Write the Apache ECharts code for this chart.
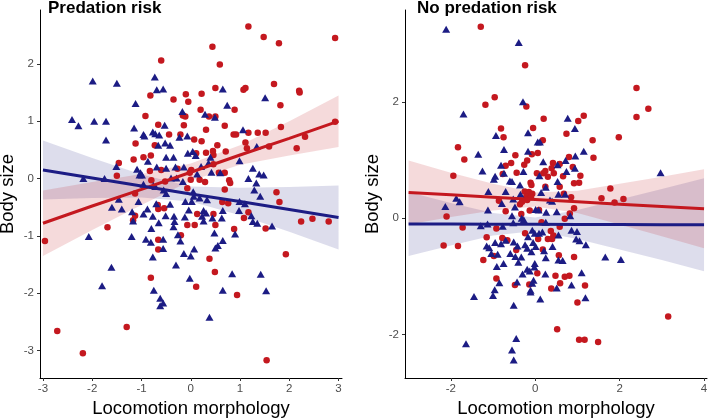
<!DOCTYPE html>
<html><head><meta charset="utf-8">
<script src="https://cdn.jsdelivr.net/npm/echarts@6/dist/echarts.min.js"></script>
<style>html,body{margin:0;padding:0;background:#fff}#c{width:709px;height:418px}</style>
</head><body><div id="c"></div>
<script>
const panelTitles = ['Predation risk', 'No predation risk'];
const xAxisTitle = 'Locomotion morphology';
const yAxisTitle = 'Body size';
const leftXTicks = [-3, -2, -1, 0, 1, 2, 3];
const leftYTicks = [-3, -2, -1, 0, 1, 2];
const rightXTicks = [-2, 0, 2, 4];
const rightYTicks = [-2, 0, 2];

// Predation risk panel: red circles
const prRed = [[1.17,2.65],[1.48,2.47],[1.79,2.36],[2.93,2.45],[0.44,2.30],[-0.60,2.06],[0.59,1.99],[1.69,1.65],[0.50,1.58],[1.07,1.55],[1.11,1.58],[2.20,1.53],[2.21,1.50],[-0.10,1.47],[0.22,1.48],[-0.82,1.45],[-0.35,1.38],[-0.05,1.34],[1.82,1.28],[0.20,1.20],[0.89,1.20],[-0.16,1.10],[-0.11,1.08],[-0.92,1.09],[0.37,1.08],[0.50,1.08],[-0.66,0.94],[-0.14,0.93],[0.69,0.92],[1.83,0.90],[0.31,0.85],[2.93,0.99],[0.07,0.68],[-0.44,0.77],[-0.21,0.77],[0.87,0.77],[0.92,0.77],[1.17,0.80],[1.36,0.80],[1.52,0.80],[2.32,0.73],[1.11,0.63],[0.22,0.65],[-1.12,0.61],[-0.73,0.58],[0.54,0.58],[1.14,0.53],[1.59,0.56],[2.15,0.53],[0.31,0.45],[0.45,0.48],[0.71,0.47],[0.46,0.41],[-0.81,0.40],[-0.96,0.37],[-1.16,0.33],[-1.46,0.27],[0.46,0.25],[0.01,0.15],[-0.02,0.10],[-0.27,0.17],[-0.60,0.15],[-0.83,0.13],[-1.50,0.05],[0.57,0.10],[0.69,0.10],[0.78,-0.03],[0.80,-0.08],[0.29,-0.06],[0.18,-0.02],[0.00,-0.02],[-0.52,-0.05],[-0.80,-0.03],[-1.13,-0.26],[0.69,-0.19],[1.74,-0.24],[1.80,-0.41],[0.64,-0.41],[0.76,-0.43],[-0.67,-0.46],[-0.66,-0.53],[-0.54,-0.52],[-1.13,-0.65],[0.46,-0.62],[0.13,-0.62],[1.17,-0.59],[1.08,-0.69],[-1.17,-0.73],[2.24,-0.75],[2.47,-0.70],[2.80,-0.75],[-1.69,-0.85],[-0.07,-0.81],[0.08,-0.81],[0.50,-0.81],[1.52,-0.87],[0.88,-0.88],[-0.20,-0.99],[-2.96,-1.09],[-0.66,-1.07],[-0.66,-1.24],[1.93,-1.32],[0.38,-1.40],[0.49,-1.63],[-0.81,-1.73],[0.11,-1.89],[0.94,-2.03],[-2.71,-2.66],[-1.30,-2.59],[-2.19,-3.05],[1.54,-3.17],[0.11,0.44],[-0.07,-0.17]];
// Predation risk panel: blue triangles
const prBlue = [[-1.99,1.70],[-1.50,1.66],[-0.73,1.77],[-0.69,1.55],[-0.56,1.56],[0.65,1.56],[1.51,1.41],[-1.12,1.31],[0.74,1.28],[-0.17,1.17],[0.29,1.12],[0.49,1.07],[-2.41,1.03],[-1.96,1.00],[-1.72,1.00],[-2.28,0.92],[-0.53,0.93],[-1.15,0.88],[1.06,0.85],[-1.72,0.67],[-0.77,0.81],[-0.72,0.78],[-0.96,0.77],[-0.94,0.74],[-0.64,0.76],[-0.07,0.74],[-0.23,0.72],[-0.52,0.62],[-0.42,0.58],[1.34,0.56],[-0.66,0.58],[-0.06,0.44],[0.04,0.47],[0.10,0.40],[0.40,0.37],[-0.50,0.37],[-0.35,0.37],[-0.87,0.30],[0.99,0.31],[-0.14,0.20],[-0.31,0.20],[-0.69,0.20],[-0.50,0.18],[0.21,0.21],[0.36,0.27],[-1.51,0.21],[-1.09,0.16],[-1.02,0.10],[-1.04,0.06],[-0.99,0.06],[1.26,0.18],[1.39,0.08],[1.48,0.06],[0.42,0.11],[0.60,0.10],[-0.40,0.01],[-0.29,0.01],[-0.16,-0.05],[0.13,0.08],[1.17,0.00],[-1.75,0.00],[-2.18,0.00],[1.33,-0.08],[-0.76,-0.12],[-0.72,-0.14],[-0.96,-0.10],[-0.55,-0.20],[-0.50,-0.26],[0.05,-0.23],[1.29,-0.20],[0.06,-0.31],[0.18,-0.34],[-0.11,-0.40],[0.02,-0.40],[0.33,-0.37],[-1.46,-0.36],[-1.06,-0.40],[-0.70,-0.44],[-0.42,-0.45],[1.41,-0.31],[0.99,-0.40],[1.10,-0.44],[-1.60,-0.50],[-1.40,-0.53],[-1.19,-0.58],[-0.88,-0.53],[-0.04,-0.55],[0.26,-0.56],[0.31,-0.60],[0.65,-0.56],[0.98,-0.56],[-0.96,-0.62],[-0.77,-0.66],[-0.51,-0.65],[-0.34,-0.66],[-0.12,-0.67],[0.23,-0.66],[0.44,-0.69],[0.63,-0.69],[1.23,-0.65],[1.26,-0.75],[1.35,-0.78],[1.65,-0.83],[-1.17,-0.74],[-0.65,-0.77],[-0.33,-0.75],[-0.35,-0.84],[0.26,-0.74],[-0.80,-0.87],[-2.07,-1.01],[-1.20,-1.01],[-0.26,-0.98],[0.48,-0.95],[0.90,-0.97],[-0.91,-1.06],[-0.81,-1.11],[-0.56,-1.06],[-0.21,-1.09],[0.65,-1.08],[0.55,-1.17],[0.50,-1.21],[-0.56,-1.22],[-0.14,-1.31],[0.00,-1.35],[0.07,-1.23],[-0.77,-1.37],[-0.30,-1.51],[-1.61,-1.55],[-0.02,-1.74],[0.84,-1.66],[1.42,-1.67],[-1.80,-1.87],[-0.75,-1.95],[0.65,-1.95],[1.53,-1.96],[-0.62,-2.09],[-0.56,-2.17],[-0.62,-2.22],[0.38,-2.42]];
// No predation risk panel: red circles
const nprRed = [[-1.29,3.29],[-0.24,2.63],[-0.96,2.08],[-1.18,1.95],[-0.21,1.92],[2.40,2.24],[2.68,1.88],[2.40,1.74],[0.20,1.71],[1.15,1.76],[1.02,1.67],[-0.81,1.54],[-0.05,1.55],[-0.75,1.39],[0.74,1.45],[1.98,1.39],[1.36,1.34],[-1.83,1.22],[0.18,1.34],[0.06,1.12],[-0.08,1.10],[-0.47,1.08],[-0.19,0.99],[1.38,1.04],[0.80,1.05],[-1.68,1.01],[-0.57,0.95],[-0.70,0.90],[-0.26,0.92],[0.42,0.95],[0.58,0.93],[0.89,0.88],[0.39,0.86],[0.24,0.81],[0.19,0.77],[-0.44,0.78],[-0.77,0.76],[0.04,0.77],[0.44,0.77],[0.66,0.72],[1.07,0.73],[-1.94,0.73],[0.30,0.71],[-0.11,0.61],[-0.09,0.57],[1.04,0.61],[0.92,0.60],[1.78,0.51],[0.24,0.54],[0.58,0.54],[-0.25,0.46],[-0.15,0.45],[-0.07,0.42],[-0.21,0.37],[-0.19,0.31],[-0.10,0.36],[-0.31,0.28],[-0.36,0.24],[1.57,0.34],[1.88,0.27],[2.09,0.33],[0.85,0.36],[0.68,0.42],[-0.86,0.30],[-0.70,0.12],[-0.13,0.13],[0.09,0.14],[0.92,0.17],[0.82,0.08],[-2.10,0.03],[-0.33,0.07],[0.70,-0.01],[0.15,-0.07],[0.58,-0.15],[-1.72,-0.16],[-0.92,-0.18],[0.37,-0.22],[-0.24,-0.26],[-1.15,-0.33],[-0.78,-0.34],[0.43,-0.30],[0.40,-0.36],[0.30,-0.36],[0.07,-0.36],[-0.66,-0.38],[-2.17,-0.47],[-1.83,-0.48],[-0.45,-0.55],[0.18,-0.54],[-1.23,-0.72],[-0.98,-0.65],[0.56,-0.64],[0.92,-0.67],[0.05,-0.95],[0.48,-0.99],[0.70,-1.01],[0.81,-0.99],[-0.92,-1.04],[-0.48,-1.15],[-0.14,-1.14],[0.59,-1.12],[0.38,-1.21],[1.18,-1.16],[1.00,-1.45],[3.15,-1.69],[0.52,-1.91],[1.04,-2.09],[1.17,-2.09],[1.49,-2.13]];
// No predation risk panel: blue triangles
const nprBlue = [[-2.11,3.25],[-0.39,3.02],[-0.29,2.00],[-1.70,1.79],[0.77,1.72],[0.94,1.54],[-0.93,1.42],[-0.17,1.47],[0.06,1.31],[0.11,1.31],[-1.35,1.10],[-0.74,1.18],[-0.17,1.15],[1.15,1.15],[0.95,1.07],[0.72,0.99],[0.19,0.97],[0.53,0.92],[-0.81,0.91],[0.94,0.86],[-1.25,0.81],[-0.28,0.80],[0.74,0.80],[-0.74,0.77],[-0.95,0.72],[2.97,0.78],[0.10,0.73],[-0.98,0.67],[-0.60,0.64],[-0.55,0.63],[-0.36,0.57],[0.25,0.53],[0.53,0.63],[0.14,0.44],[0.55,0.41],[0.71,0.41],[-1.11,0.46],[-0.70,0.46],[-0.35,0.41],[-2.13,0.20],[-1.87,0.34],[-1.79,0.28],[-0.52,0.33],[0.35,0.31],[0.40,0.29],[-0.79,0.25],[-0.48,0.19],[0.01,0.15],[0.08,0.14],[-1.12,0.14],[0.26,0.10],[0.51,0.11],[-0.55,0.04],[-0.32,0.00],[-0.27,-0.03],[0.83,0.04],[-1.29,-0.13],[-1.13,-0.10],[-0.52,-0.08],[0.25,-0.07],[-0.77,-0.14],[-0.07,-0.21],[-0.01,-0.26],[0.09,-0.26],[-0.17,-0.32],[0.17,-0.24],[0.86,-0.21],[0.99,-0.23],[0.97,-0.36],[1.05,-0.39],[1.20,-0.46],[0.55,-0.29],[-1.15,-0.48],[-1.09,-0.51],[-0.95,-0.42],[-0.81,-0.44],[-0.70,-0.38],[-0.51,-0.41],[-0.42,-0.48],[-0.24,-0.46],[-0.19,-0.52],[-0.05,-0.42],[0.01,-0.49],[-0.09,-0.58],[0.21,-0.56],[0.41,-0.49],[-1.04,-0.61],[-0.89,-0.62],[-0.59,-0.61],[-0.47,-0.66],[-0.33,-0.67],[0.25,-0.68],[1.66,-0.67],[2.03,-0.71],[0.55,-0.72],[0.65,-0.73],[-0.01,-0.78],[-0.75,-0.78],[-0.91,-0.83],[-0.40,-0.76],[-0.19,-0.88],[-0.13,-0.91],[-0.02,-0.84],[-0.30,-0.96],[0.24,-0.96],[1.10,-0.94],[-0.04,-1.07],[-0.07,-1.12],[-0.85,-1.11],[-0.43,-1.10],[0.86,-1.15],[0.51,-1.20],[-0.96,-1.23],[-1.00,-1.33],[-0.11,-1.24],[-0.11,-1.27],[-1.45,-1.35],[1.19,-1.37],[0.12,-1.39],[-0.51,-1.50],[-0.45,-2.07],[-1.64,-2.16],[-0.55,-2.27],[-0.51,-2.44]];

// Fitted lines and confidence bands
const leftFitX = [-3, -2, -1, 0, 1, 2, 3];
const leftRedFit = [-0.78, -0.48, -0.19, 0.11, 0.41, 0.70, 1.00];
const leftRedLo = [-1.35, -0.90, -0.46, -0.04, 0.24, 0.40, 0.55];
const leftRedHi = [-0.21, -0.06, 0.08, 0.26, 0.58, 1.00, 1.45];
const leftBlueFit = [0.15, 0.01, -0.13, -0.27, -0.40, -0.54, -0.68];
const leftBlueLo = [-0.365, -0.34, -0.33, -0.40, -0.64, -0.93, -1.24];
const leftBlueHi = [0.665, 0.36, 0.07, -0.14, -0.16, -0.15, -0.12];

const rightFitX = [-3, -2, -1, 0, 1, 2, 3, 4];
const rightRedFit = [0.44, 0.40, 0.36, 0.32, 0.28, 0.24, 0.20, 0.16];
const rightRedLo = [-0.11, 0.02, 0.13, 0.20, 0.09, -0.11, -0.31, -0.52];
const rightRedHi = [0.99, 0.78, 0.59, 0.44, 0.47, 0.59, 0.71, 0.84];
const rightBlueFit = [-0.100, -0.102, -0.104, -0.106, -0.108, -0.110, -0.112, -0.115];
const rightBlueLo = [-0.65, -0.47, -0.30, -0.22, -0.36, -0.54, -0.72, -0.915];
const rightBlueHi = [0.45, 0.26, 0.09, 0.01, 0.14, 0.32, 0.50, 0.685];

const RED = '#C4181F';
const BLUE = '#1C1C84';
const RED_BAND = 'rgba(192,25,31,0.16)';
const BLUE_BAND = 'rgba(27,27,127,0.15)';
const FONT = '"Liberation Sans", Arial, sans-serif';

function band(idx, xs, lo, hi, color) {
  return {
    type: 'custom', xAxisIndex: idx, yAxisIndex: idx, silent: true, z: 1,
    data: xs.map((x, i) => [x, lo[i], hi[i]]),
    encode: { x: 0, y: [1, 2] },
    renderItem: function (params, api) {
      if (params.dataIndex !== 0) return null;
      const pts = [];
      for (let i = 0; i < xs.length; i++) pts.push(api.coord([xs[i], hi[i]]));
      for (let i = xs.length - 1; i >= 0; i--) pts.push(api.coord([xs[i], lo[i]]));
      return { type: 'polygon', shape: { points: pts }, style: { fill: color } };
    }
  };
}
function fitLine(idx, xs, ys, color) {
  return {
    type: 'line', xAxisIndex: idx, yAxisIndex: idx, z: 4, silent: true,
    data: xs.map((x, i) => [x, ys[i]]), symbol: 'none',
    lineStyle: { color: color, width: 3 }
  };
}
function pts(idx, data, color, tri) {
  return {
    type: 'scatter', xAxisIndex: idx, yAxisIndex: idx, z: 3, silent: true,
    data: data, symbol: tri ? 'triangle' : 'circle',
    symbolSize: tri ? [8, 7] : 6.5,
    itemStyle: { color: color, opacity: 1 }
  };
}
function xAx(idx, min, max, ticks) {
  return {
    type: 'value', gridIndex: idx, min: min, max: max,
    splitLine: { show: false },
    axisLine: { show: true, onZero: false, lineStyle: { color: '#000', width: 1 } },
    axisTick: { show: true, length: 3, customValues: ticks, lineStyle: { color: '#333' } },
    axisLabel: { customValues: ticks, color: '#4d4d4d', fontSize: 11.5, margin: 5, fontFamily: FONT },
    name: xAxisTitle, nameLocation: 'middle', nameGap: 19,
    nameTextStyle: { color: '#000', fontSize: 18.5, fontFamily: FONT }
  };
}
function yAx(idx, min, max, ticks) {
  return {
    type: 'value', gridIndex: idx, min: min, max: max,
    splitLine: { show: false },
    axisLine: { show: true, onZero: false, lineStyle: { color: '#000', width: 1 } },
    axisTick: { show: true, length: 3, customValues: ticks, lineStyle: { color: '#333' } },
    axisLabel: { customValues: ticks, color: '#4d4d4d', fontSize: 11.5, margin: 6, fontFamily: FONT },
    name: yAxisTitle, nameLocation: 'middle', nameGap: 23, nameRotate: 90,
    nameTextStyle: { color: '#000', fontSize: 18.5, fontFamily: FONT }
  };
}

const chart = echarts.init(document.getElementById('c'), null, { renderer: 'canvas' });
chart.setOption({
  animation: false,
  backgroundColor: '#fff',
  title: [
    { text: panelTitles[0], left: 48, top: 0, padding: 0, textStyle: { fontSize: 17, fontWeight: 'bold', color: '#000', fontFamily: FONT } },
    { text: panelTitles[1], left: 417, top: 0, padding: 0, textStyle: { fontSize: 17, fontWeight: 'bold', color: '#000', fontFamily: FONT } }
  ],
  grid: [
    { left: 40, top: 10, width: 302, height: 368, containLabel: false, outerBoundsMode: 'none' },
    { left: 405, top: 10, width: 302, height: 368, containLabel: false, outerBoundsMode: 'none' }
  ],
  xAxis: [xAx(0, -3.06, 3.07, leftXTicks), xAx(1, -3.085, 4.07, rightXTicks)],
  yAxis: [yAx(0, -3.48, 2.94, leftYTicks), yAx(1, -2.75, 3.58, rightYTicks)],
  series: [
    band(0, leftFitX, leftBlueLo, leftBlueHi, BLUE_BAND),
    band(0, leftFitX, leftRedLo, leftRedHi, RED_BAND),
    pts(0, prRed, RED, false),
    pts(0, prBlue, BLUE, true),
    fitLine(0, leftFitX, leftRedFit, RED),
    fitLine(0, leftFitX, leftBlueFit, BLUE),
    band(1, rightFitX, rightBlueLo, rightBlueHi, BLUE_BAND),
    band(1, rightFitX, rightRedLo, rightRedHi, RED_BAND),
    pts(1, nprRed, RED, false),
    pts(1, nprBlue, BLUE, true),
    fitLine(1, rightFitX, rightRedFit, RED),
    fitLine(1, rightFitX, rightBlueFit, BLUE)
  ]
});
</script>
</body></html>
